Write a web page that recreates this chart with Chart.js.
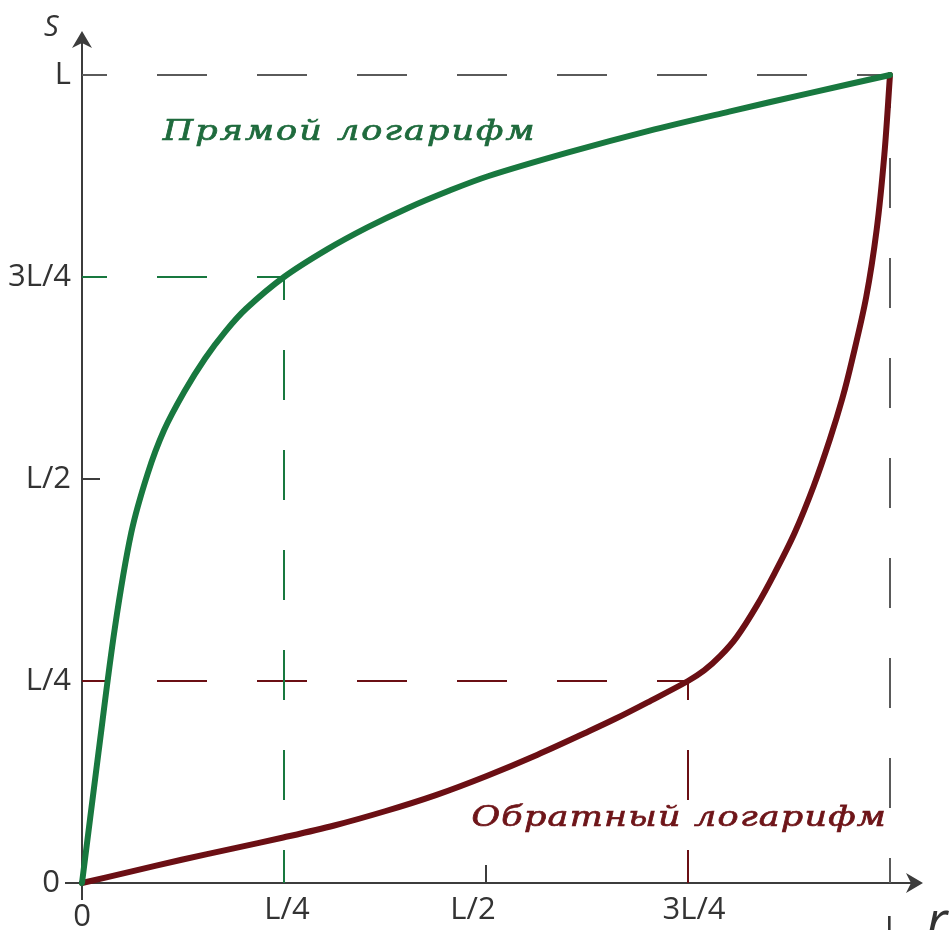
<!DOCTYPE html>
<html lang="ru">
<head>
<meta charset="utf-8">
<title>Прямой и обратный логарифм</title>
<script src="https://cdn.jsdelivr.net/npm/chart.js@4/dist/chart.umd.min.js"></script>
<style>
  html, body { margin: 0; padding: 0; background: #fff; }
  #logChart { display: block; }
</style>
</head>
<body>
<canvas id="logChart" width="952" height="930"></canvas>
<script>
// Values are in units of L (0 .. 1).
const tickValues = [0, 0.25, 0.5, 0.75, 1];
const tickLabels = ['0', 'L/4', 'L/2', '3L/4', 'L'];

// Прямой логарифм
const directR = [0, 0.0203, 0.0406, 0.0609, 0.0812, 0.1015, 0.1269, 0.1523, 0.1776, 0.203, 0.25,
  0.3034, 0.3532, 0.4029, 0.4527, 0.5024, 0.6019, 0.7014, 0.801, 0.9005, 1];
const directS = [0, 0.1607, 0.3152, 0.4332, 0.5064, 0.5603, 0.6086, 0.6492, 0.6828, 0.7107, 0.75,
  0.7842, 0.8114, 0.8352, 0.8561, 0.8747, 0.9042, 0.9309, 0.9547, 0.9776, 1];

// Обратный логарифм
const inverseR = [0, 0.0604, 0.1233, 0.1863, 0.2491, 0.3122, 0.375, 0.4379, 0.5009, 0.5638, 0.6267, 0.66, 0.7, 0.75,
  0.77, 0.79, 0.81, 0.835, 0.8571, 0.8819, 0.9057, 0.9257, 0.9409, 0.9528, 0.9705, 0.9835, 0.993, 1];
const inverseS = [0, 0.0141, 0.0288, 0.0425, 0.0563, 0.0712, 0.0888, 0.1088, 0.1325, 0.1588, 0.1875, 0.2032, 0.2236, 0.25,
  0.263, 0.281, 0.304, 0.343, 0.3833, 0.4332, 0.4917, 0.5495, 0.5993, 0.6461, 0.7249, 0.8086, 0.9013, 1];

// Guide lines: [r, s] pairs, listed from the axis outwards
const directGuide = [[0, 0.75], [0.25, 0.75], [0.25, 0]];
const inverseGuide = [[0, 0.25], [0.75, 0.25], [0.75, 0]];
const limitGuideTop = [[0, 1], [1, 1]];
const limitGuideRight = [[1, 0], [1, 1]];

const directLabel = 'Прямой логарифм';
const inverseLabel = 'Обратный логарифм';

const COLORS = {
  green: '#18783f',
  greenText: '#1f6b3d',
  red: '#6b0f14',
  redText: '#6e1519',
  guide: '#5a5a5a',
  axis: '#3c3c3c',
  text: '#333333',
};

const toPoints = (xs, ys) => xs.map((x, i) => ({ x: x, y: ys[i] }));
const pairPoints = (pairs) => pairs.map((p) => ({ x: p[0], y: p[1] }));

function guideDataset(points, color) {
  return {
    data: points,
    borderColor: color,
    borderWidth: 2,
    borderDash: [50, 50],
    borderDashOffset: 25,
    pointRadius: 0,
    tension: 0,
    clip: false,
    order: 2,
  };
}

function curveDataset(points, color) {
  return {
    data: points,
    borderColor: color,
    borderWidth: 6,
    borderCapStyle: 'round',
    borderJoinStyle: 'round',
    pointRadius: 0,
    tension: 0.33,
    clip: false,
    order: 0,
  };
}

function arrowHead(ctx, x, y, dir) {
  // dir: 'up' or 'right'
  ctx.beginPath();
  if (dir === 'up') {
    ctx.moveTo(x, y);
    ctx.lineTo(x - 10, y + 17);
    ctx.lineTo(x, y + 12);
    ctx.lineTo(x + 10, y + 17);
  } else {
    ctx.moveTo(x, y);
    ctx.lineTo(x - 17, y - 10);
    ctx.lineTo(x - 12, y);
    ctx.lineTo(x - 17, y + 10);
  }
  ctx.closePath();
  ctx.fill();
}

// Handwritten-looking caption: slightly stretched, then spaced out to span left..right
function spreadText(ctx, text, left, right, y) {
  const stretch = 1.25;
  ctx.letterSpacing = '0px';
  const w = ctx.measureText(text).width * stretch;
  const gap = Math.max(0, (right - left - w) / (text.length - 1)) / stretch;
  ctx.save();
  ctx.translate(left, y);
  ctx.scale(stretch, 1);
  ctx.letterSpacing = gap.toFixed(2) + 'px';
  ctx.lineWidth = 0.7;
  ctx.strokeStyle = ctx.fillStyle;
  ctx.fillText(text, 0, 0);
  ctx.strokeText(text, 0, 0);
  ctx.restore();
}

// Axes with arrows, ticks and labels
const axesPlugin = {
  id: 'axesPlugin',
  beforeDatasetsDraw(chart) {
    const { ctx, scales: { x, y } } = chart;
    const x0 = x.getPixelForValue(0);
    const y0 = y.getPixelForValue(0);
    ctx.save();
    ctx.strokeStyle = COLORS.axis;
    ctx.fillStyle = COLORS.axis;
    ctx.lineWidth = 2;
    ctx.beginPath();
    ctx.moveTo(x0, y0 + 17);
    ctx.lineTo(x0, 40);
    ctx.moveTo(x0 - 17, y0);
    ctx.lineTo(912, y0);
    // L/2 ticks point inward
    const xm = x.getPixelForValue(0.5);
    const ym = y.getPixelForValue(0.5);
    ctx.moveTo(xm, y0);
    ctx.lineTo(xm, y0 - 18);
    ctx.moveTo(x0, ym);
    ctx.lineTo(x0 + 18, ym);
    ctx.stroke();
    arrowHead(ctx, x0, 31, 'up');
    arrowHead(ctx, 923, y0, 'right');
    ctx.restore();
  },
  afterDatasetsDraw(chart) {
    const { ctx, scales: { x, y } } = chart;
    const x0 = x.getPixelForValue(0);
    const y0 = y.getPixelForValue(0);
    ctx.save();
    ctx.fillStyle = COLORS.text;
    ctx.font = '31px "Open Sans"';

    // y tick labels
    ctx.textAlign = 'right';
    ctx.textBaseline = 'middle';
    tickValues.forEach((v, i) => {
      const px = v === 0 ? x0 - 22 : x0 - 11;
      ctx.fillText(tickLabels[i], px, y.getPixelForValue(v));
    });

    // x tick labels (hand-placed slightly off their ticks)
    const shiftX = { 0: 0, 0.25: 3, 0.5: -13, 0.75: 6, 1: 3 };
    ctx.textAlign = 'center';
    ctx.textBaseline = 'alphabetic';
    tickValues.forEach((v, i) => {
      let base = y0 + 36;
      if (v === 0) base = y0 + 43;
      if (v === 1) base = y0 + 55;
      ctx.fillText(tickLabels[i], x.getPixelForValue(v) + shiftX[v], base);
    });

    // axis names
    ctx.font = 'italic 29px "Open Sans"';
    ctx.textAlign = 'left';
    ctx.fillText('S', 44, 36);
    ctx.font = 'italic 54px "Open Sans"';
    ctx.fillText('r', 926, 940);

    // curve names
    ctx.font = 'italic 28px "DejaVu Serif"';
    ctx.textBaseline = 'middle';
    ctx.fillStyle = COLORS.greenText;
    spreadText(ctx, directLabel, x.getPixelForValue(0.1), x.getPixelForValue(0.56), y.getPixelForValue(0.928));
    ctx.fillStyle = COLORS.redText;
    spreadText(ctx, inverseLabel, x.getPixelForValue(0.482), x.getPixelForValue(0.995), y.getPixelForValue(0.08));
    ctx.restore();
  },
};

new Chart(document.getElementById('logChart'), {
  type: 'line',
  data: {
    datasets: [
      curveDataset(toPoints(directR, directS), COLORS.green),
      curveDataset(toPoints(inverseR, inverseS), COLORS.red),
      guideDataset(pairPoints(limitGuideTop), COLORS.guide),
      guideDataset(pairPoints(limitGuideRight), COLORS.guide),
      guideDataset(pairPoints(directGuide), COLORS.green),
      guideDataset(pairPoints(inverseGuide), COLORS.red),
    ],
  },
  options: {
    responsive: false,
    animation: false,
    events: [],
    layout: { padding: { left: 82, right: 62, top: 75, bottom: 47 } },
    plugins: { legend: { display: false }, tooltip: { enabled: false } },
    scales: {
      x: { type: 'linear', min: 0, max: 1, display: false },
      y: { type: 'linear', min: 0, max: 1, display: false },
    },
  },
  plugins: [axesPlugin],
});
</script>
</body>
</html>
